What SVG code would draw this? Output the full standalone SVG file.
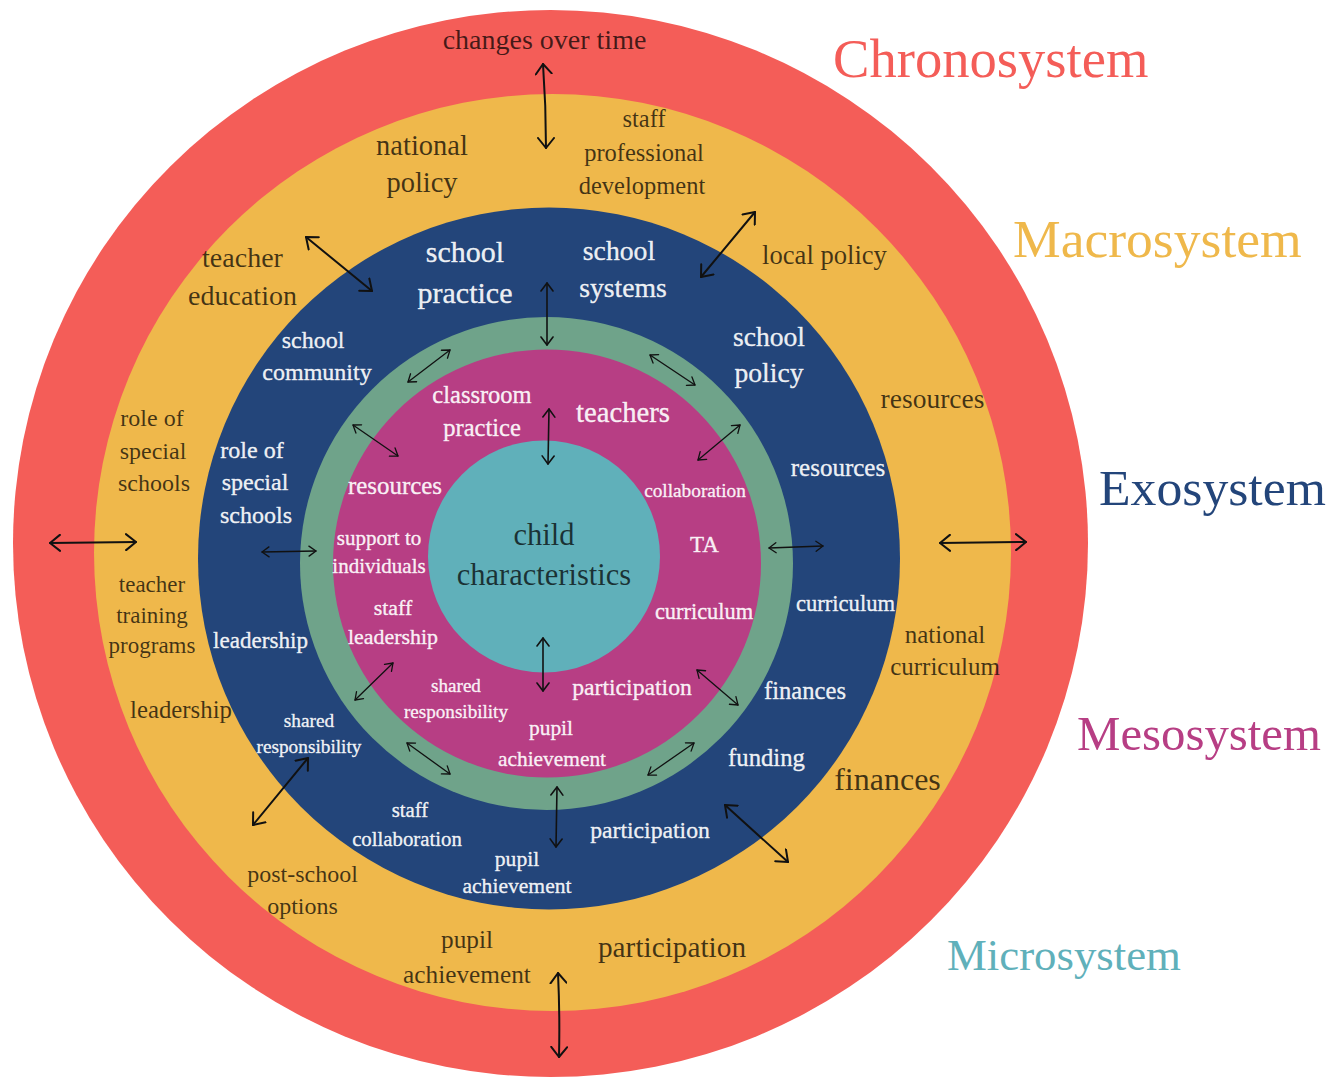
<svg xmlns="http://www.w3.org/2000/svg" width="1331" height="1086" viewBox="0 0 1331 1086">
  <defs>
    <style>
      .t { font-family: "Liberation Serif", "DejaVu Serif", serif; text-anchor: middle; }
      .dk { fill: #000; fill-opacity: 0.72; }
      .lt { fill: #fff; fill-opacity: 0.93; stroke: #fff; stroke-width: 0.45; stroke-opacity: 0.7; }
      .legend { font-family: "Liberation Serif", "DejaVu Serif", serif; text-anchor: start; }
      .arrow { fill: none; stroke: #111; stroke-linecap: round; }
      .big { stroke-width: 2; marker-start: url(#hBig); marker-end: url(#hBig); }
      .mid { stroke-width: 1.6; marker-start: url(#hMid); marker-end: url(#hMid); }
      .sm { stroke-width: 1.3; marker-start: url(#hSm); marker-end: url(#hSm); }
    </style>
    <marker id="hBig" viewBox="-1 -9 12 18" refX="10" refY="0" markerWidth="12" markerHeight="18" markerUnits="userSpaceOnUse" orient="auto-start-reverse">
      <path d="M0,-8 L10,0 L0,8" fill="none" stroke="#111" stroke-width="2" stroke-linecap="round" stroke-linejoin="round"/>
    </marker>
    <marker id="hMid" viewBox="-1 -7 10 14" refX="8" refY="0" markerWidth="10" markerHeight="14" markerUnits="userSpaceOnUse" orient="auto-start-reverse">
      <path d="M0,-6 L8,0 L0,6" fill="none" stroke="#111" stroke-width="1.6" stroke-linecap="round" stroke-linejoin="round"/>
    </marker>
    <marker id="hSm" viewBox="-1 -6 9 12" refX="7" refY="0" markerWidth="9" markerHeight="12" markerUnits="userSpaceOnUse" orient="auto-start-reverse">
      <path d="M0,-5 L7,0 L0,5" fill="none" stroke="#111" stroke-width="1.3" stroke-linecap="round" stroke-linejoin="round"/>
    </marker>
  </defs>

  <rect width="1331" height="1086" fill="#fff"/>

  <!-- Chronosystem ring -->
  <g id="chronosystem">
    <ellipse cx="550.5" cy="543.5" rx="537.5" ry="533.5" fill="#F45D58"/>
    <text class="t dk" x="544.5" y="49" font-size="28">changes over time</text>
  </g>

  <!-- Macrosystem ring -->
  <g id="macrosystem">
    <circle cx="552.5" cy="552.5" r="458.5" fill="#EFB84B"/>
    <g class="t dk">
      <text x="422" y="155" font-size="28.5">national</text>
      <text x="422" y="192" font-size="28.5">policy</text>
      <text x="644" y="127" font-size="24.5">staff</text>
      <text x="644" y="161" font-size="24.5">professional</text>
      <text x="642" y="194" font-size="24.5">development</text>
      <text x="242.5" y="267" font-size="28">teacher</text>
      <text x="242.5" y="305" font-size="28">education</text>
      <text x="824.5" y="264" font-size="26.6">local policy</text>
      <text x="932.5" y="408" font-size="27.5">resources</text>
      <text x="152" y="426" font-size="24">role of</text>
      <text x="153" y="459" font-size="24">special</text>
      <text x="154" y="491" font-size="24">schools</text>
      <text x="152" y="592" font-size="23">teacher</text>
      <text x="152" y="623" font-size="23">training</text>
      <text x="152" y="653" font-size="23">programs</text>
      <text x="181" y="718" font-size="24.8">leadership</text>
      <text x="945" y="643" font-size="25">national</text>
      <text x="945" y="675" font-size="25">curriculum</text>
      <text x="887.5" y="790" font-size="32">finances</text>
      <text x="302.5" y="882" font-size="24">post-school</text>
      <text x="302.5" y="914" font-size="24">options</text>
      <text x="467" y="948" font-size="25.3">pupil</text>
      <text x="467" y="983" font-size="25.3">achievement</text>
      <text x="672" y="957" font-size="29.3">participation</text>
    </g>
  </g>

  <!-- Exosystem ring -->
  <g id="exosystem">
    <circle cx="549" cy="558.5" r="351" fill="#23457A"/>
    <g class="t lt">
      <text x="465" y="262" font-size="30">school</text>
      <text x="465" y="303" font-size="30">practice</text>
      <text x="619" y="260" font-size="27.7">school</text>
      <text x="623" y="297" font-size="27.7">systems</text>
      <text x="313" y="348" font-size="24">school</text>
      <text x="317" y="380" font-size="24">community</text>
      <text x="769" y="346" font-size="27.6">school</text>
      <text x="769" y="382" font-size="27.6">policy</text>
      <text x="252" y="458" font-size="24">role of</text>
      <text x="255" y="490" font-size="24">special</text>
      <text x="256" y="523" font-size="24">schools</text>
      <text x="838" y="476" font-size="25">resources</text>
      <text x="845.5" y="611" font-size="22.6">curriculum</text>
      <text x="260.5" y="648" font-size="23.1">leadership</text>
      <text x="309" y="727" font-size="19.3">shared</text>
      <text x="309" y="753" font-size="19.3">responsibility</text>
      <text x="805" y="699" font-size="24.6">finances</text>
      <text x="766.5" y="766" font-size="24.7">funding</text>
      <text x="410" y="817" font-size="20.8">staff</text>
      <text x="407" y="846" font-size="20.8">collaboration</text>
      <text x="517" y="866" font-size="21.6">pupil</text>
      <text x="517" y="893" font-size="21.6">achievement</text>
      <text x="650" y="838" font-size="23.7">participation</text>
    </g>
  </g>

  <!-- Mesosystem ring -->
  <g id="mesosystem">
    <circle cx="546.5" cy="563.5" r="246.5" fill="#6FA38A"/>
    <circle cx="547" cy="563.5" r="214" fill="#B73E84"/>
    <g class="t lt">
      <text x="482" y="403" font-size="24.5">classroom</text>
      <text x="482" y="436" font-size="24.5">practice</text>
      <text x="623" y="422" font-size="28.7">teachers</text>
      <text x="395" y="494" font-size="24.9">resources</text>
      <text x="695" y="497" font-size="19.3">collaboration</text>
      <text x="379" y="545" font-size="21">support to</text>
      <text x="379" y="573" font-size="21">individuals</text>
      <text x="704.5" y="552" font-size="23">TA</text>
      <text x="393" y="615" font-size="21.9">staff</text>
      <text x="393" y="644" font-size="21.9">leadership</text>
      <text x="704" y="619" font-size="22.4">curriculum</text>
      <text x="456" y="692" font-size="19.1">shared</text>
      <text x="456" y="718" font-size="19.1">responsibility</text>
      <text x="632" y="695" font-size="23.7">participation</text>
      <text x="551" y="735" font-size="21.4">pupil</text>
      <text x="552" y="766" font-size="21.4">achievement</text>
    </g>
  </g>

  <!-- Microsystem core -->
  <g id="microsystem">
    <circle cx="544" cy="556.5" r="116" fill="#60B0BA"/>
    <text class="t dk" x="544" y="545" font-size="30.5">child</text>
    <text class="t dk" x="544" y="585" font-size="30.5">characteristics</text>
  </g>

  <!-- system names -->
  <g id="legend" class="legend">
    <text x="833" y="77" font-size="54.6" fill="#F45D58">Chronosystem</text>
    <text x="1013" y="257" font-size="53.6" fill="#EFB84B">Macrosystem</text>
    <text x="1099" y="505" font-size="51.7" fill="#23457A">Exosystem</text>
    <text x="1077" y="750" font-size="48.8" fill="#B73E84">Mesosystem</text>
    <text x="947" y="970" font-size="44.8" fill="#60B0BA">Microsystem</text>
  </g>

  <!-- two-way influences between layers -->
  <g id="connectors" class="arrow">
    <path class="big" d="M543,64 Q546,106 546,148"/>
    <path class="big" d="M306,237 L372,291"/>
    <path class="big" d="M755,212 L701,277"/>
    <path class="mid" d="M547,283 L547,345"/>
    <path class="sm" d="M450,350 L408,382"/>
    <path class="sm" d="M353,425 L398,456"/>
    <path class="mid" d="M549,409 L548,464"/>
    <path class="sm" d="M650,355 L695,385"/>
    <path class="sm" d="M740,425 L698,460"/>
    <path class="big" d="M50,543 L136,542"/>
    <path class="sm" d="M262,552 L316,551"/>
    <path class="sm" d="M769,548 L823,546"/>
    <path class="big" d="M940,543 L1026,542"/>
    <path class="mid" d="M543,638 L543,691"/>
    <path class="sm" d="M393,663 L355,700"/>
    <path class="sm" d="M697,670 L738,705"/>
    <path class="sm" d="M407,743 L450,774"/>
    <path class="sm" d="M694,743 L648,775"/>
    <path class="big" d="M308,758 L253,825"/>
    <path class="mid" d="M557,787 L556,847"/>
    <path class="big" d="M725,805 L788,862"/>
    <path class="big" d="M558,973 Q560,1015 559,1057"/>
  </g>
</svg>
